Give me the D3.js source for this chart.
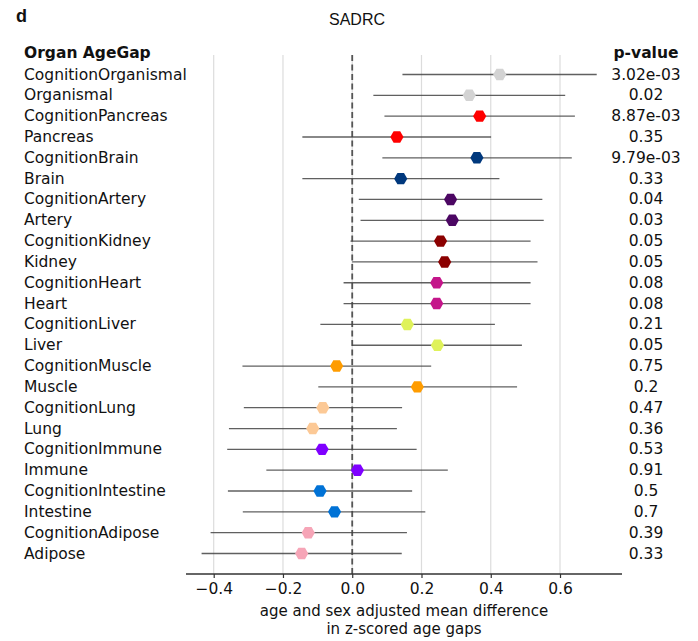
<!DOCTYPE html>
<html>
<head>
<meta charset="utf-8">
<script src="https://cdn.jsdelivr.net/npm/d3@7"></script>
<style>
  body { margin: 0; background: #fff; }
</style>
</head>
<body>
<div id="chart"></div>
<script>
const labels = ["CognitionOrganismal", "Organismal", "CognitionPancreas", "Pancreas",
  "CognitionBrain", "Brain", "CognitionArtery", "Artery", "CognitionKidney", "Kidney",
  "CognitionHeart", "Heart", "CognitionLiver", "Liver", "CognitionMuscle", "Muscle",
  "CognitionLung", "Lung", "CognitionImmune", "Immune", "CognitionIntestine", "Intestine",
  "CognitionAdipose", "Adipose"];
const means = [0.426, 0.338, 0.368, 0.129, 0.360, 0.140, 0.284, 0.289, 0.255, 0.267,
  0.244, 0.244, 0.159, 0.246, -0.045, 0.188, -0.085, -0.114, -0.087, 0.015,
  -0.093, -0.051, -0.127, -0.146];
const lower = [0.145, 0.061, 0.093, -0.144, 0.087, -0.144, 0.019, 0.024, -0.005, 0.0,
  -0.025, -0.025, -0.092, 0.0, -0.317, -0.098, -0.313, -0.356, -0.361, -0.248,
  -0.359, -0.316, -0.409, -0.435];
const upper = [0.706, 0.615, 0.643, 0.401, 0.634, 0.425, 0.549, 0.553, 0.515, 0.535,
  0.515, 0.515, 0.412, 0.490, 0.228, 0.476, 0.144, 0.129, 0.186, 0.276,
  0.173, 0.211, 0.158, 0.143];
const pvalues = ["3.02e-03", "0.02", "8.87e-03", "0.35", "9.79e-03", "0.33", "0.04", "0.03",
  "0.05", "0.05", "0.08", "0.08", "0.21", "0.05", "0.75", "0.2", "0.47", "0.36",
  "0.53", "0.91", "0.5", "0.7", "0.39", "0.33"];
const organs = ["Organismal", "Pancreas", "Brain", "Artery", "Kidney", "Heart",
  "Liver", "Muscle", "Lung", "Immune", "Intestine", "Adipose"];
const xTicks = [-0.4, -0.2, 0.0, 0.2, 0.4, 0.6];

const width = 698, height = 641;
const font = "'DejaVu Sans', sans-serif";
const fs = 15.5;

const color = d3.scaleOrdinal(organs, ["#d3d3d3", "#ff0000", "#00387d", "#4c0763",
  "#8b0000", "#c4158a", "#dff25a", "#ff9c00", "#fcc996", "#7f00ff", "#0072d6", "#f6a5b7"]);

const rows = labels.map((l, i) => ({
  label: l, organ: l.replace("Cognition", ""),
  mean: means[i], lo: lower[i], hi: upper[i], p: pvalues[i]
}));

const x = d3.scaleLinear().domain([-0.48, 0.779]).range([186, 622]);
const y = d3.scalePoint().domain(labels).range([74.5, 553.5]);
const plotTop = 55, plotBottom = 574;

const svg = d3.select("#chart").append("svg")
    .attr("width", width).attr("height", height)
    .attr("font-family", font);

// grid
svg.append("g").selectAll("line")
  .data(xTicks)
  .join("line")
    .attr("x1", d => x(d)).attr("x2", d => x(d))
    .attr("y1", plotTop).attr("y2", plotBottom)
    .attr("stroke", "#dcdcdc").attr("stroke-width", 1.2);

// zero line
svg.append("line")
    .attr("x1", x(0)).attr("x2", x(0))
    .attr("y1", plotTop).attr("y2", plotBottom)
    .attr("stroke", "#555").attr("stroke-width", 1.8)
    .attr("stroke-dasharray", "6,3.5");

// error bars
svg.append("g").selectAll("line")
  .data(rows)
  .join("line")
    .attr("x1", d => x(d.lo)).attr("x2", d => x(d.hi))
    .attr("y1", d => y(d.label)).attr("y2", d => y(d.label))
    .attr("stroke", "#444").attr("stroke-opacity", 0.85).attr("stroke-width", 1.3);

// hexagon markers
const hex = d3.range(6).map(k => {
  const a = Math.PI / 3 * k;
  return [6.6 * Math.cos(a), 6.6 * Math.sin(a)];
});
svg.append("g").selectAll("path")
  .data(rows)
  .join("path")
    .attr("transform", d => `translate(${x(d.mean)},${y(d.label)})`)
    .attr("d", "M" + hex.join("L") + "Z")
    .attr("fill", d => color(d.organ));

// x axis
const axis = svg.append("g")
    .attr("transform", `translate(0,${plotBottom})`)
    .call(d3.axisBottom(x).tickValues(xTicks).tickSize(4).tickPadding(5)
      .tickFormat(d => d3.format(".1f")(d).replace("-", "\u2212")));
axis.select(".domain").attr("stroke", "#333").attr("stroke-width", 1.5)
    .attr("d", `M${x.range()[0]},0H${x.range()[1]}`);
axis.selectAll(".tick line").attr("stroke", "#333").attr("stroke-width", 1.2);
axis.selectAll(".tick text").attr("font-size", fs).attr("fill", "#111").attr("font-family", font);

svg.append("text")
    .attr("x", 404).attr("y", 616)
    .attr("text-anchor", "middle").attr("font-size", 15).attr("fill", "#111")
    .text("age and sex adjusted mean difference");
svg.append("text")
    .attr("x", 404).attr("y", 634)
    .attr("text-anchor", "middle").attr("font-size", 15).attr("fill", "#111")
    .text("in z-scored age gaps");

// row labels
svg.append("g").selectAll("text")
  .data(rows)
  .join("text")
    .attr("x", 24).attr("y", d => y(d.label) + 5)
    .attr("font-size", fs).attr("fill", "#111")
    .text(d => d.label);

svg.append("text")
    .attr("x", 24).attr("y", 58)
    .attr("font-size", fs).attr("font-weight", "bold").attr("fill", "#111")
    .text("Organ AgeGap");

// p-values
svg.append("g").selectAll("text")
  .data(rows)
  .join("text")
    .attr("x", 646).attr("y", d => y(d.label) + 5)
    .attr("text-anchor", "middle")
    .attr("font-size", fs).attr("fill", "#111")
    .text(d => d.p);

svg.append("text")
    .attr("x", 646).attr("y", 58)
    .attr("text-anchor", "middle")
    .attr("font-size", fs).attr("font-weight", "bold").attr("fill", "#111")
    .text("p-value");

// title and panel letter
svg.append("text")
    .attr("x", 357).attr("y", 25)
    .attr("text-anchor", "middle")
    .attr("font-family", "'Liberation Sans', Arial, sans-serif")
    .attr("font-size", 16).attr("fill", "#111")
    .text("SADRC");
svg.append("text")
    .attr("x", 16).attr("y", 22)
    .attr("font-family", "'Liberation Sans', Arial, sans-serif")
    .attr("font-size", 18).attr("font-weight", "bold").attr("fill", "#111")
    .text("d");
</script>
</body>
</html>
